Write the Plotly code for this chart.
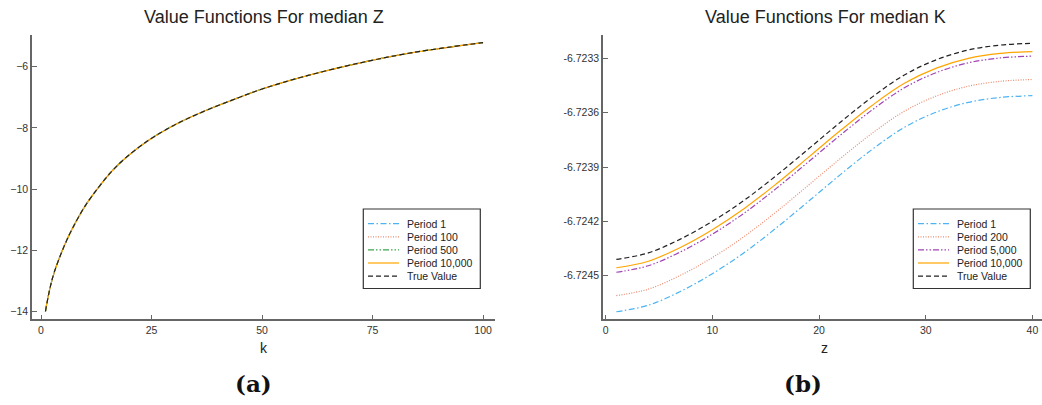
import plotly.graph_objects as go

# ---- Panel (a): value function across k at the median z ----
k_grid = [1, 2, 3, 5, 7, 10, 13, 16, 19, 24, 30, 37, 44, 50, 60, 72, 84, 100]
v_period1_k = [-14.0, -13.26, -12.72, -11.95, -11.32, -10.55, -9.95, -9.42, -9.00,
               -8.44, -7.92, -7.45, -7.05, -6.73, -6.30, -5.88, -5.54, -5.21]
v_period100_k = list(v_period1_k)
v_period500_k = list(v_period1_k)
v_period10000_k = list(v_period1_k)
v_true_k = list(v_period1_k)

# ---- Panel (b): value function across z at the median k ----
z_grid = [1, 4, 7, 10, 13, 16, 19, 22, 25, 28, 31, 34, 37, 40]
v_true_z = [-6.724410, -6.724374, -6.724298, -6.724200, -6.724083, -6.723947, -6.723801,
            -6.723653, -6.723513, -6.723392, -6.723308, -6.723254, -6.723227, -6.723217]
v_period10000_z = [-6.724456, -6.724420, -6.724344, -6.724246, -6.724129, -6.723993, -6.723847,
                   -6.723699, -6.723559, -6.723438, -6.723354, -6.723300, -6.723273, -6.723263]
v_period5000_z = [-6.724481, -6.724445, -6.724369, -6.724271, -6.724154, -6.724018, -6.723872,
                  -6.723724, -6.723584, -6.723463, -6.723379, -6.723325, -6.723298, -6.723288]
v_period200_z = [-6.724610, -6.724574, -6.724498, -6.724400, -6.724283, -6.724147, -6.724001,
                 -6.723853, -6.723713, -6.723592, -6.723508, -6.723454, -6.723427, -6.723417]
v_period1_z = [-6.724699, -6.724663, -6.724587, -6.724489, -6.724372, -6.724236, -6.724090,
               -6.723942, -6.723802, -6.723681, -6.723597, -6.723543, -6.723516, -6.723506]

y_ticks_z = [-6.7245, -6.7242, -6.7239, -6.7236, -6.7233]
y_ticklabels_z = ["-6.7245", "-6.7242", "-6.7239", "-6.7236", "-6.7233"]

BLUE = "#4db3f2"
SALMON = "#ec8a6e"
GREEN = "#3ea44e"
PURPLE = "#a044b4"
ORANGE = "#ffa500"
BLACK = "#222222"

DASH = "5px,3px"
DASHDOT = "6px,2.5px,1.5px,2.5px"
DOT = "1px,1.5px"
DASHDOTDOT = "6px,2px,1.5px,2px,1.5px,2px"
SOLID = "solid"
FONT = "Liberation Sans, Arial, sans-serif"

W, H = 1042, 405

fig = go.Figure()


def add_line(x, y, name, color, dash, xa, ya):
    fig.add_trace(go.Scatter(
        x=x, y=y, name=name, mode="lines", showlegend=False,
        line=dict(color=color, width=1.2, dash=dash, shape="spline", smoothing=1.0),
        xaxis=xa, yaxis=ya,
    ))


series_a = [
    (k_grid, v_period1_k, "Period 1", BLUE, DASHDOT),
    (k_grid, v_period100_k, "Period 100", SALMON, DOT),
    (k_grid, v_period500_k, "Period 500", GREEN, DASHDOTDOT),
    (k_grid, v_period10000_k, "Period 10,000", ORANGE, SOLID),
    (k_grid, v_true_k, "True Value", BLACK, DASH),
]
series_b = [
    (z_grid, v_period1_z, "Period 1", BLUE, DASHDOT),
    (z_grid, v_period200_z, "Period 200", SALMON, DOT),
    (z_grid, v_period5000_z, "Period 5,000", PURPLE, DASHDOTDOT),
    (z_grid, v_period10000_z, "Period 10,000", ORANGE, SOLID),
    (z_grid, v_true_z, "True Value", BLACK, DASH),
]
for x, y, name, color, dash in series_a:
    add_line(x, y, name, color, dash, "x", "y")
for x, y, name, color, dash in series_b:
    add_line(x, y, name, color, dash, "x2", "y2")


def px_x(p):
    return p / W


def px_y(p):
    return (H - p) / H


# Boxed legend, one row per series, drawn in paper coordinates
def draw_legend(series, box_left, sample_left):
    box_right = box_left + 117
    fig.add_shape(type="rect", xref="paper", yref="paper",
                  x0=px_x(box_left), x1=px_x(box_right), y0=px_y(288.5), y1=px_y(209),
                  line=dict(color="#333333", width=1.2), fillcolor="white", layer="above")
    for i, (_, _, name, color, dash) in enumerate(series):
        row_y = 223.7 + 13.1 * i
        fig.add_shape(type="line", xref="paper", yref="paper",
                      x0=px_x(sample_left), x1=px_x(sample_left + 31),
                      y0=px_y(row_y), y1=px_y(row_y),
                      line=dict(color=color, width=1.2, dash=dash), layer="above")
        fig.add_annotation(xref="paper", yref="paper", x=px_x(sample_left + 37), y=px_y(row_y),
                           xanchor="left", yanchor="middle", showarrow=False, text=name,
                           font=dict(family=FONT, size=10.5, color="#222222"))


draw_legend(series_a, 363.3, 368)
draw_legend(series_b, 913.3, 918)

ydom = [px_y(319.3), px_y(35)]

axis_common = dict(
    showline=True, linecolor="#666666", linewidth=1.5,
    ticks="inside", ticklen=5, tickcolor="#666666", tickwidth=1,
    showgrid=False, zeroline=False,
    tickfont=dict(family=FONT, size=10.5, color="#333333"),
)

fig.update_layout(
    width=W, height=H,
    margin=dict(l=0, r=0, t=0, b=0),
    paper_bgcolor="white", plot_bgcolor="white",
    showlegend=False,
    xaxis=dict(domain=[px_x(32), px_x(495)], range=[-2.04, 102.7],
               tickvals=[0, 25, 50, 75, 100], anchor="y", **axis_common),
    yaxis=dict(domain=ydom, range=[-14.262, -4.962],
               tickvals=[-14, -12, -10, -8, -6], anchor="x", **axis_common),
    xaxis2=dict(domain=[px_x(603), 1.0], range=[-0.25, 40.9],
                tickvals=[0, 10, 20, 30, 40], anchor="y2", **axis_common),
    yaxis2=dict(domain=ydom, range=[-6.7247407, -6.7231714],
                tickvals=y_ticks_z, ticktext=y_ticklabels_z, anchor="x2", **axis_common),
)

annotations = [
    dict(text="Value Functions For median Z", x=px_x(264), y=px_y(17),
         font=dict(family=FONT, size=18, color="#222222")),
    dict(text="Value Functions For median K", x=px_x(825), y=px_y(17),
         font=dict(family=FONT, size=18, color="#222222")),
    dict(text="k", x=px_x(264), y=px_y(348),
         font=dict(family=FONT, size=14, color="#222222")),
    dict(text="z", x=px_x(824), y=px_y(348),
         font=dict(family=FONT, size=14, color="#222222")),
    dict(text="<b>(a)</b>", x=px_x(253), y=px_y(383),
         font=dict(family="DejaVu Serif, serif", size=23, color="#111111")),
    dict(text="<b>(b)</b>", x=px_x(803), y=px_y(383),
         font=dict(family="DejaVu Serif, serif", size=23, color="#111111")),
]
for a in annotations:
    fig.add_annotation(xref="paper", yref="paper", xanchor="center", yanchor="middle",
                       showarrow=False, **a)

fig.write_html("out.html")
